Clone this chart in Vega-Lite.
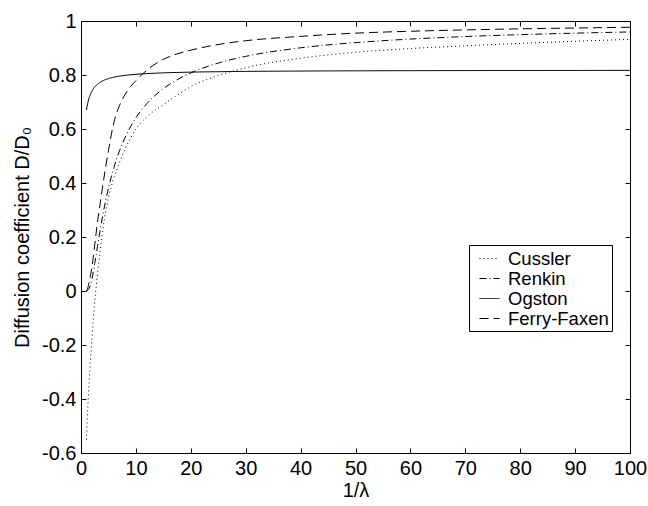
{
  "$schema": "https://vega.github.io/schema/vega-lite/v6.json",
  "width": 549,
  "height": 432,
  "autosize": "none",
  "padding": {"left": 81, "top": 21, "right": 18, "bottom": 53},
  "background": "white",
  "config": {
    "font": "Liberation Sans",
    "view": {"stroke": "black", "strokeWidth": 1},
    "axis": {
      "grid": false,
      "domainColor": "black",
      "tickColor": "black",
      "labelColor": "black",
      "titleColor": "black",
      "labelFont": "Liberation Sans",
      "titleFont": "Liberation Sans",
      "labelFontSize": 20,
      "titleFontSize": 20,
      "titleFontWeight": "normal",
      "tickSize": -5,
      "labelFlush": false,
      "labelOverlap": false
    }
  },
  "data": {
    "values": [
      {"model": "Cussler", "inv_lambda": 1, "ratio": -0.55},
      {"model": "Cussler", "inv_lambda": 1.25, "ratio": -0.43},
      {"model": "Cussler", "inv_lambda": 1.5, "ratio": -0.33},
      {"model": "Cussler", "inv_lambda": 1.75, "ratio": -0.25},
      {"model": "Cussler", "inv_lambda": 2, "ratio": -0.175},
      {"model": "Cussler", "inv_lambda": 2.5, "ratio": -0.04},
      {"model": "Cussler", "inv_lambda": 3, "ratio": 0.06},
      {"model": "Cussler", "inv_lambda": 3.5, "ratio": 0.15},
      {"model": "Cussler", "inv_lambda": 4, "ratio": 0.23},
      {"model": "Cussler", "inv_lambda": 4.5, "ratio": 0.295},
      {"model": "Cussler", "inv_lambda": 5, "ratio": 0.345},
      {"model": "Cussler", "inv_lambda": 6, "ratio": 0.42},
      {"model": "Cussler", "inv_lambda": 7, "ratio": 0.475},
      {"model": "Cussler", "inv_lambda": 8, "ratio": 0.525},
      {"model": "Cussler", "inv_lambda": 9, "ratio": 0.565},
      {"model": "Cussler", "inv_lambda": 10, "ratio": 0.6},
      {"model": "Cussler", "inv_lambda": 12, "ratio": 0.645},
      {"model": "Cussler", "inv_lambda": 15, "ratio": 0.69},
      {"model": "Cussler", "inv_lambda": 17.5, "ratio": 0.725},
      {"model": "Cussler", "inv_lambda": 20, "ratio": 0.757},
      {"model": "Cussler", "inv_lambda": 25, "ratio": 0.798},
      {"model": "Cussler", "inv_lambda": 30, "ratio": 0.827},
      {"model": "Cussler", "inv_lambda": 40, "ratio": 0.862},
      {"model": "Cussler", "inv_lambda": 50, "ratio": 0.884},
      {"model": "Cussler", "inv_lambda": 60, "ratio": 0.898},
      {"model": "Cussler", "inv_lambda": 70, "ratio": 0.908},
      {"model": "Cussler", "inv_lambda": 80, "ratio": 0.917},
      {"model": "Cussler", "inv_lambda": 90, "ratio": 0.925},
      {"model": "Cussler", "inv_lambda": 100, "ratio": 0.932},

      {"model": "Renkin", "inv_lambda": 1, "ratio": 0},
      {"model": "Renkin", "inv_lambda": 1.25, "ratio": 0.003},
      {"model": "Renkin", "inv_lambda": 1.5, "ratio": 0.0102},
      {"model": "Renkin", "inv_lambda": 1.75, "ratio": 0.0238},
      {"model": "Renkin", "inv_lambda": 2, "ratio": 0.0449},
      {"model": "Renkin", "inv_lambda": 2.5, "ratio": 0.1017},
      {"model": "Renkin", "inv_lambda": 3, "ratio": 0.1654},
      {"model": "Renkin", "inv_lambda": 3.5, "ratio": 0.2274},
      {"model": "Renkin", "inv_lambda": 4, "ratio": 0.2845},
      {"model": "Renkin", "inv_lambda": 4.5, "ratio": 0.3357},
      {"model": "Renkin", "inv_lambda": 5, "ratio": 0.3812},
      {"model": "Renkin", "inv_lambda": 6, "ratio": 0.4576},
      {"model": "Renkin", "inv_lambda": 7, "ratio": 0.5183},
      {"model": "Renkin", "inv_lambda": 8, "ratio": 0.5674},
      {"model": "Renkin", "inv_lambda": 9, "ratio": 0.6077},
      {"model": "Renkin", "inv_lambda": 10, "ratio": 0.6413},
      {"model": "Renkin", "inv_lambda": 12, "ratio": 0.694},
      {"model": "Renkin", "inv_lambda": 15, "ratio": 0.7495},
      {"model": "Renkin", "inv_lambda": 17.5, "ratio": 0.7824},
      {"model": "Renkin", "inv_lambda": 20, "ratio": 0.8078},
      {"model": "Renkin", "inv_lambda": 25, "ratio": 0.8442},
      {"model": "Renkin", "inv_lambda": 30, "ratio": 0.869},
      {"model": "Renkin", "inv_lambda": 40, "ratio": 0.9007},
      {"model": "Renkin", "inv_lambda": 50, "ratio": 0.92},
      {"model": "Renkin", "inv_lambda": 60, "ratio": 0.933},
      {"model": "Renkin", "inv_lambda": 70, "ratio": 0.9424},
      {"model": "Renkin", "inv_lambda": 80, "ratio": 0.9495},
      {"model": "Renkin", "inv_lambda": 90, "ratio": 0.955},
      {"model": "Renkin", "inv_lambda": 100, "ratio": 0.9595},

      {"model": "Ogston", "inv_lambda": 1, "ratio": 0.6703},
      {"model": "Ogston", "inv_lambda": 1.1, "ratio": 0.6826},
      {"model": "Ogston", "inv_lambda": 1.25, "ratio": 0.6977},
      {"model": "Ogston", "inv_lambda": 1.5, "ratio": 0.7165},
      {"model": "Ogston", "inv_lambda": 1.75, "ratio": 0.7303},
      {"model": "Ogston", "inv_lambda": 2, "ratio": 0.7408},
      {"model": "Ogston", "inv_lambda": 2.5, "ratio": 0.7558},
      {"model": "Ogston", "inv_lambda": 3, "ratio": 0.7659},
      {"model": "Ogston", "inv_lambda": 3.5, "ratio": 0.7733},
      {"model": "Ogston", "inv_lambda": 4, "ratio": 0.7788},
      {"model": "Ogston", "inv_lambda": 5, "ratio": 0.7866},
      {"model": "Ogston", "inv_lambda": 6, "ratio": 0.7919},
      {"model": "Ogston", "inv_lambda": 7, "ratio": 0.7957},
      {"model": "Ogston", "inv_lambda": 8, "ratio": 0.7985},
      {"model": "Ogston", "inv_lambda": 10, "ratio": 0.8025},
      {"model": "Ogston", "inv_lambda": 12, "ratio": 0.8052},
      {"model": "Ogston", "inv_lambda": 15, "ratio": 0.8079},
      {"model": "Ogston", "inv_lambda": 20, "ratio": 0.8106},
      {"model": "Ogston", "inv_lambda": 25, "ratio": 0.8122},
      {"model": "Ogston", "inv_lambda": 30, "ratio": 0.8133},
      {"model": "Ogston", "inv_lambda": 40, "ratio": 0.8146},
      {"model": "Ogston", "inv_lambda": 50, "ratio": 0.8155},
      {"model": "Ogston", "inv_lambda": 60, "ratio": 0.816},
      {"model": "Ogston", "inv_lambda": 70, "ratio": 0.8164},
      {"model": "Ogston", "inv_lambda": 80, "ratio": 0.8167},
      {"model": "Ogston", "inv_lambda": 90, "ratio": 0.8169},
      {"model": "Ogston", "inv_lambda": 100, "ratio": 0.8171},

      {"model": "Ferry-Faxen", "inv_lambda": 1, "ratio": 0},
      {"model": "Ferry-Faxen", "inv_lambda": 1.25, "ratio": 0.012},
      {"model": "Ferry-Faxen", "inv_lambda": 1.5, "ratio": 0.035},
      {"model": "Ferry-Faxen", "inv_lambda": 1.75, "ratio": 0.06},
      {"model": "Ferry-Faxen", "inv_lambda": 2, "ratio": 0.09},
      {"model": "Ferry-Faxen", "inv_lambda": 2.5, "ratio": 0.17},
      {"model": "Ferry-Faxen", "inv_lambda": 3, "ratio": 0.255},
      {"model": "Ferry-Faxen", "inv_lambda": 3.5, "ratio": 0.325},
      {"model": "Ferry-Faxen", "inv_lambda": 4, "ratio": 0.395},
      {"model": "Ferry-Faxen", "inv_lambda": 4.5, "ratio": 0.46},
      {"model": "Ferry-Faxen", "inv_lambda": 5, "ratio": 0.52},
      {"model": "Ferry-Faxen", "inv_lambda": 6, "ratio": 0.625},
      {"model": "Ferry-Faxen", "inv_lambda": 7, "ratio": 0.686},
      {"model": "Ferry-Faxen", "inv_lambda": 8, "ratio": 0.727},
      {"model": "Ferry-Faxen", "inv_lambda": 9, "ratio": 0.756},
      {"model": "Ferry-Faxen", "inv_lambda": 10, "ratio": 0.779},
      {"model": "Ferry-Faxen", "inv_lambda": 12, "ratio": 0.818},
      {"model": "Ferry-Faxen", "inv_lambda": 15, "ratio": 0.858},
      {"model": "Ferry-Faxen", "inv_lambda": 17.5, "ratio": 0.878},
      {"model": "Ferry-Faxen", "inv_lambda": 20, "ratio": 0.892},
      {"model": "Ferry-Faxen", "inv_lambda": 25, "ratio": 0.913},
      {"model": "Ferry-Faxen", "inv_lambda": 30, "ratio": 0.927},
      {"model": "Ferry-Faxen", "inv_lambda": 40, "ratio": 0.943},
      {"model": "Ferry-Faxen", "inv_lambda": 50, "ratio": 0.955},
      {"model": "Ferry-Faxen", "inv_lambda": 60, "ratio": 0.962},
      {"model": "Ferry-Faxen", "inv_lambda": 70, "ratio": 0.967},
      {"model": "Ferry-Faxen", "inv_lambda": 80, "ratio": 0.971},
      {"model": "Ferry-Faxen", "inv_lambda": 90, "ratio": 0.974},
      {"model": "Ferry-Faxen", "inv_lambda": 100, "ratio": 0.977}
    ]
  },
  "layer": [
    {
      "mark": {"type": "line", "color": "black", "strokeWidth": 1, "interpolate": "monotone"},
      "encoding": {
        "x": {
          "field": "inv_lambda",
          "type": "quantitative",
          "scale": {"domain": [0, 100], "nice": false},
          "axis": {
            "orient": "bottom",
            "title": "1/λ",
            "values": [0, 10, 20, 30, 40, 50, 60, 70, 80, 90, 100],
            "labelPadding": 10,
            "titlePadding": 2
          }
        },
        "y": {
          "field": "ratio",
          "type": "quantitative",
          "scale": {"domain": [-0.6, 1], "nice": false, "zero": false},
          "axis": {
            "orient": "left",
            "title": "Diffusion coefficient D/D₀",
            "values": [-0.6, -0.4, -0.2, 0, 0.2, 0.4, 0.6, 0.8, 1],
            "labelExpr": "datum.value < 0 ? '-' + format(-datum.value, '~g') : format(datum.value, '~g')",
            "labelPadding": 10,
            "titlePadding": 9
          }
        },
        "strokeDash": {
          "field": "model",
          "type": "nominal",
          "scale": {
            "domain": ["Cussler", "Renkin", "Ogston", "Ferry-Faxen"],
            "range": [[1, 3], [7, 3, 1, 3], [1, 0], [9, 5]]
          },
          "legend": {
            "orient": "none",
            "legendX": 388,
            "legendY": 224,
            "title": null,
            "strokeColor": "black",
            "fillColor": "white",
            "padding": 3,
            "symbolOffset": 7,
            "symbolType": "stroke",
            "symbolSize": 400,
            "symbolStrokeWidth": 1,
            "symbolStrokeColor": "black",
            "labelFont": "Liberation Sans",
            "labelFontSize": 18.5,
            "labelColor": "black",
            "labelOffset": 8,
            "rowPadding": 0,
            "cornerRadius": 0
          }
        }
      }
    },
    {
      "mark": {"type": "point", "opacity": 0},
      "encoding": {
        "x": {
          "field": "inv_lambda",
          "type": "quantitative",
          "axis": {"orient": "top", "title": null, "labels": false, "values": [0, 10, 20, 30, 40, 50, 60, 70, 80, 90, 100]}
        },
        "y": {
          "field": "ratio",
          "type": "quantitative",
          "axis": {"orient": "right", "title": null, "labels": false, "values": [-0.6, -0.4, -0.2, 0, 0.2, 0.4, 0.6, 0.8, 1]}
        }
      }
    }
  ],
  "resolve": {"axis": {"x": "independent", "y": "independent"}}
}
